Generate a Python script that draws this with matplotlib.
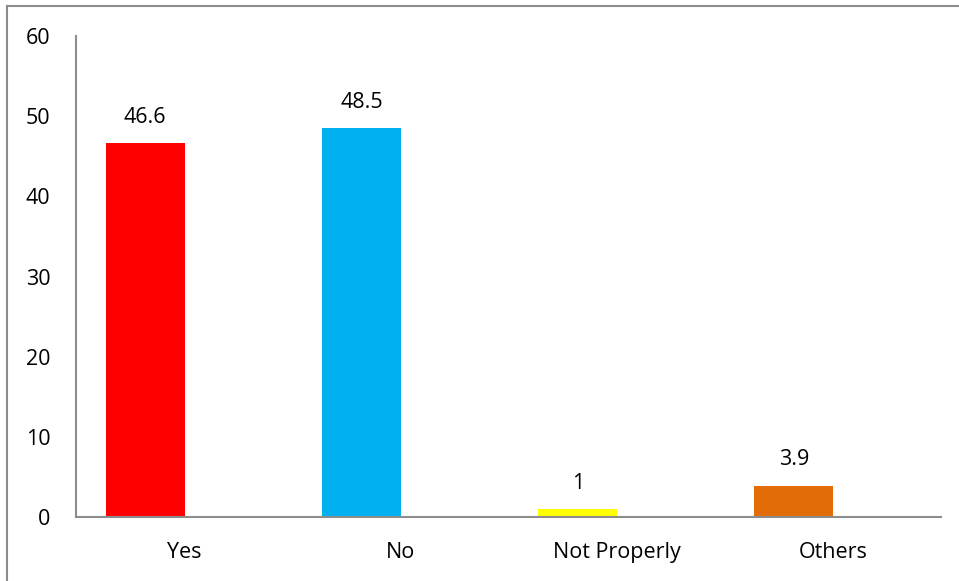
import matplotlib
matplotlib.use("Agg")
import matplotlib.pyplot as plt
from matplotlib.lines import Line2D

categories = ["Yes", "No", "Not Properly", "Others"]
values = [46.6, 48.5, 1, 3.9]
value_labels = ["46.6", "48.5", "1", "3.9"]
colors = ["#FF0000", "#00B0F0", "#FFFF00", "#E36C09"]
yticks = [0, 10, 20, 30, 40, 50, 60]

plt.rcParams['font.family'] = ['Open Sans', 'DejaVu Sans']

fig = plt.figure(figsize=(9.59, 5.81), dpi=100)
ax = fig.add_axes([76/959, 1-517/581, (941-76)/959, (517-36)/581])

x = list(range(len(categories)))
bx = [xi - 0.18 for xi in x]
ax.bar(bx, values, width=0.365, color=colors, zorder=2)
for xi, v, lab in zip(bx, values, value_labels):
    ax.annotate(lab, (xi, v), xytext=(0, 11), textcoords="offset points",
                ha="center", va="bottom", fontsize=15.5)

ax.set_xlim(-0.5, 3.5)
ax.set_ylim(0, 60)
ax.set_yticks(yticks)
ax.set_yticklabels([str(t) for t in yticks], fontsize=15.5)
ax.set_xticks(x)
ax.set_xticklabels(categories, fontsize=15.5)
ax.tick_params(axis="both", length=0)
ax.tick_params(axis="y", pad=18.5)
ax.tick_params(axis="x", pad=18)
for s in ["top", "right"]:
    ax.spines[s].set_visible(False)
for s in ["left", "bottom"]:
    ax.spines[s].set_color("#8C8C8C")
    ax.spines[s].set_linewidth(1.5)

# outer frame (left and top edges visible)
fig.add_artist(Line2D([7/959, 7/959], [0, 1-6/581], transform=fig.transFigure, color="#8C8C8C", lw=1.5))
fig.add_artist(Line2D([7/959, 1], [1-6/581, 1-6/581], transform=fig.transFigure, color="#8C8C8C", lw=1.5))

fig.savefig("out.png", dpi=100)
